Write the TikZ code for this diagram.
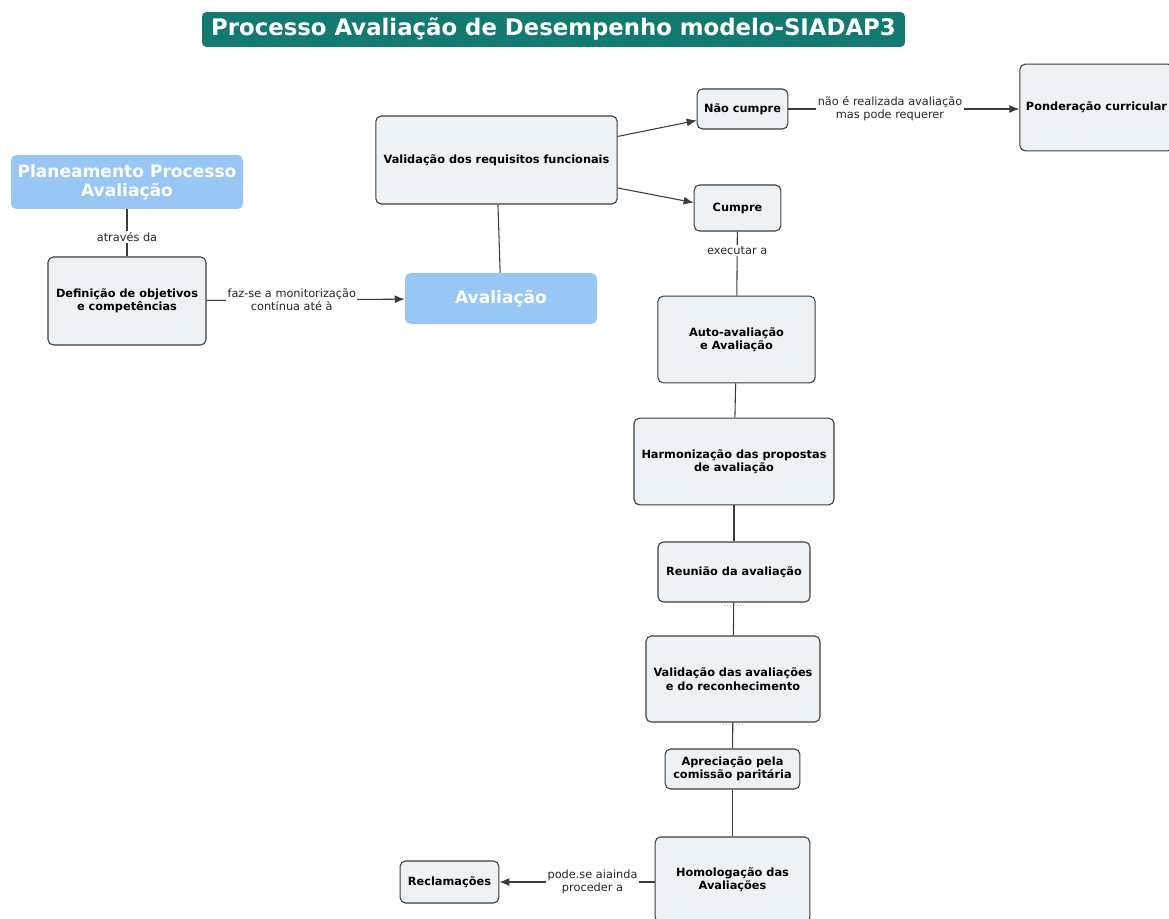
\documentclass[tikz,border=0pt]{standalone}
\usepackage{fontspec}
\setmainfont{DejaVu Sans}
\usetikzlibrary{arrows.meta}
\definecolor{teal}{RGB}{18,122,112}
\definecolor{skyblue}{RGB}{153,199,245}
\definecolor{boxfill}{RGB}{237,242,246}
\definecolor{boxline}{RGB}{60,60,60}
\begin{document}
\begin{tikzpicture}[x=0.75pt,y=-0.75pt,
    concept/.style={draw=boxline,fill=boxfill,rounded corners=4pt,line width=0.8pt,
      font=\fontsize{8.5}{10}\selectfont\bfseries,align=center,inner sep=2pt},
    mainconcept/.style={fill=skyblue,rounded corners=4pt,text=white,
      font=\fontsize{12.8}{14}\selectfont\bfseries,align=center,inner sep=2pt},
    link/.style={draw=boxline,line width=0.8pt},
    linkarrow/.style={link,-{Latex[length=7.5pt,width=6pt]}},
    linktext/.style={fill=white,text=black!85,font=\fontsize{8.5}{9.8}\selectfont,align=center,inner sep=1pt}]
        \clip (0,0) rectangle (1169,919);
        \fill[white] (0,0) rectangle (1169,919);
        \node[fill=teal,rounded corners=3pt,text=white,minimum width=527pt,minimum height=26pt,
          font=\fontsize{17.1}{19}\selectfont\bfseries] (title) at (553.5,29.5) {Processo Avaliação de Desempenho modelo-SIADAP3};
        \node[mainconcept,minimum width=174pt,minimum height=40.5pt] (planeamento) at (127,182) {Planeamento Processo\\Avaliação};
        \node[concept,minimum width=118.5pt,minimum height=66pt] (definicao) at (127,301) {Definição de objetivos\\e competências};
        \node[mainconcept,minimum width=144pt,minimum height=38pt] (avaliacao) at (501,298.5) {Avaliação};
        \node[concept,minimum width=181pt,minimum height=66pt] (requisitos) at (496.5,160) {Validação dos requisitos funcionais};
        \node[concept,minimum width=68pt,minimum height=30pt] (naocumpre) at (742.5,109) {Não cumpre};
        \node[concept,minimum width=115pt,minimum height=65pt] (ponderacao) at (1096.5,107.5) {Ponderação curricular};
        \node[concept,minimum width=65pt,minimum height=34.5pt] (cumpre) at (737.5,208) {Cumpre};
        \node[concept,minimum width=118pt,minimum height=65pt] (auto) at (736.5,339.5) {Auto-avaliação\\e Avaliação};
        \node[concept,minimum width=150pt,minimum height=65pt] (harmonizacao) at (734,461.5) {Harmonização das propostas\\de avaliação};
        \node[concept,minimum width=114pt,minimum height=45pt] (reuniao) at (734,572) {Reunião da avaliação};
        \node[concept,minimum width=130.5pt,minimum height=64.5pt] (validacao) at (733,679) {Validação das avaliações\\e do reconhecimento};
        \node[concept,minimum width=101pt,minimum height=30pt] (apreciacao) at (732.5,769) {Apreciação pela\\comissão paritária};
        \node[concept,minimum width=116pt,minimum height=64.5pt] (homologacao) at (732.5,880) {Homologação das\\Avaliações};
        \node[concept,minimum width=74pt,minimum height=31.5pt] (reclamacoes) at (449.5,882) {Reclamações};
        % ligacoes
        \draw[link] (planeamento) -- node[linktext,pos=0.58] {através da} (definicao);
        \draw[linkarrow] (definicao) -- node[linktext,pos=0.43] {faz-se a monitorização\\contínua até à} (avaliacao);
        \draw[link] (requisitos) -- (avaliacao);
        \draw[linkarrow] (requisitos.11) -- (naocumpre.194);
        \draw[linkarrow] (requisitos.-13) -- (cumpre.173);
        \draw[linkarrow] (naocumpre) -- node[linktext,pos=0.44] {não é realizada avaliação\\mas pode requerer} (ponderacao.west |- naocumpre);
        \draw[link] (cumpre) -- node[linktext,pos=0.29] {executar a} (auto);
        \draw[link] (auto) -- (harmonizacao);
        \draw[link] (harmonizacao) -- (reuniao);
        \draw[link] (reuniao) -- (validacao);
        \draw[link] (validacao) -- (apreciacao);
        \draw[link] (apreciacao) -- (homologacao);
        \draw[linkarrow] (homologacao.west |- reclamacoes) -- node[linktext,pos=0.4] {pode.se aiainda\\proceder a} (reclamacoes);
        \draw[gray!60,dotted] (724,605) -- (744,605);
        \draw[gray!60,dotted] (723,724) -- (743,724);
      \end{tikzpicture}
\end{document}
